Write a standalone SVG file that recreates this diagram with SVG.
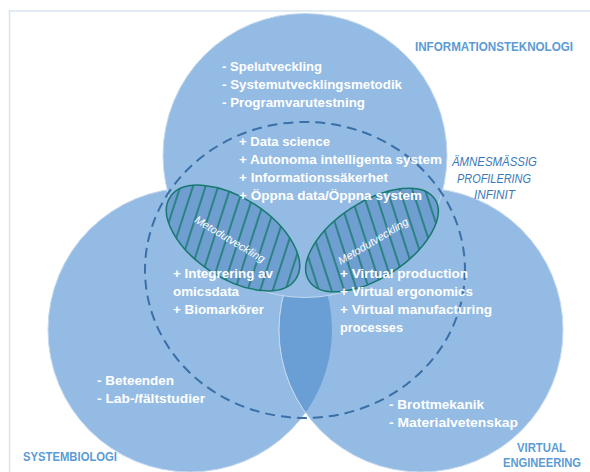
<svg xmlns="http://www.w3.org/2000/svg" width="590" height="472" viewBox="0 0 590 472">
<style>
.circ{fill:#93bbe3;stroke:#c4d8ee;stroke-width:1}
.w{font-family:"Liberation Sans",Arial,sans-serif;font-weight:bold;font-size:13px;fill:#ffffff}
.h{font-family:"Liberation Sans",Arial,sans-serif;font-weight:bold;font-size:12.5px;fill:#5b9bd5}
.it{font-family:"Liberation Sans",Arial,sans-serif;font-style:italic;font-size:12px;fill:#3a78ba}
.m{font-family:"Liberation Sans",Arial,sans-serif;font-style:italic;font-size:11px;fill:#ffffff}
.ell{stroke:#17796d;stroke-width:1.5}
</style>
<defs>
<clipPath id="clipL"><circle cx="190" cy="330" r="142"/></clipPath>
<pattern id="hatchL" patternUnits="userSpaceOnUse" width="12" height="20" patternTransform="rotate(-15)">
<rect width="12" height="20" fill="#6f9ed0"/>
<line x1="6" y1="0" x2="6" y2="20" stroke="#17796d" stroke-width="1.5"/>
</pattern>
<pattern id="hatchR" patternUnits="userSpaceOnUse" width="12" height="20" patternTransform="rotate(15)">
<rect width="12" height="20" fill="#6f9ed0"/>
<line x1="6" y1="0" x2="6" y2="20" stroke="#17796d" stroke-width="1.5"/>
</pattern>
</defs>
<rect x="9.5" y="11" width="600" height="480" fill="none" stroke="#d9e3f0" stroke-width="1.5"/>
<g id="circle-systembiologi"><circle class="circ" cx="190" cy="330" r="142"/></g>
<g id="circle-virtual-engineering"><circle class="circ" cx="421" cy="330" r="142"/></g>
<g id="lens"><circle cx="421" cy="330" r="142" fill="#6a9fd6" stroke="#c4d8ee" stroke-width="1" clip-path="url(#clipL)"/></g>
<g id="circle-informationsteknologi"><circle class="circ" cx="305" cy="155.5" r="142"/></g>
<g id="metod-left">
<ellipse class="ell" cx="0" cy="0" rx="75" ry="40" fill="url(#hatchL)" transform="translate(233,238) rotate(33)"/>
<text class="m" x="0" y="4" text-anchor="middle" textLength="80" lengthAdjust="spacingAndGlyphs" transform="translate(230,239) rotate(31)">Metodutveckling</text>
</g>
<g id="metod-right">
<ellipse class="ell" cx="0" cy="0" rx="75" ry="38" fill="url(#hatchR)" transform="translate(372,240) rotate(-33)"/>
<text class="m" x="0" y="4" text-anchor="middle" textLength="80" lengthAdjust="spacingAndGlyphs" transform="translate(373,241) rotate(-31)">Metodutveckling</text>
</g>
<g id="connectors">
<ellipse cx="305" cy="270" rx="160" ry="148" fill="none" stroke="#3a6fa8" stroke-width="2" stroke-dasharray="10 6"/>
</g>
<g id="texts-it">
<text class="w" x="222" y="71" textLength="100" lengthAdjust="spacingAndGlyphs">- Spelutveckling</text>
<text class="w" x="222" y="89" textLength="180" lengthAdjust="spacingAndGlyphs">- Systemutvecklingsmetodik</text>
<text class="w" x="222" y="107" textLength="143" lengthAdjust="spacingAndGlyphs">- Programvarutestning</text>
<text class="w" x="239" y="146" textLength="91" lengthAdjust="spacingAndGlyphs">+ Data science</text>
<text class="w" x="239" y="164" textLength="203" lengthAdjust="spacingAndGlyphs">+ Autonoma intelligenta system</text>
<text class="w" x="239" y="182" textLength="149" lengthAdjust="spacingAndGlyphs">+ Informationssäkerhet</text>
<text class="w" x="239" y="200" textLength="183" lengthAdjust="spacingAndGlyphs">+ Öppna data/Öppna system</text>
</g>
<g id="texts-sb">
<text class="w" x="173" y="278" textLength="100" lengthAdjust="spacingAndGlyphs">+ Integrering av</text>
<text class="w" x="173" y="296" textLength="66" lengthAdjust="spacingAndGlyphs">omicsdata</text>
<text class="w" x="173" y="314" textLength="91" lengthAdjust="spacingAndGlyphs">+ Biomarkörer</text>
<text class="w" x="97" y="385" textLength="77" lengthAdjust="spacingAndGlyphs">- Beteenden</text>
<text class="w" x="97" y="403" textLength="108" lengthAdjust="spacingAndGlyphs">- Lab-/fältstudier</text>
</g>
<g id="texts-ve">
<text class="w" x="340" y="278" textLength="128" lengthAdjust="spacingAndGlyphs">+ Virtual production</text>
<text class="w" x="340" y="296" textLength="133" lengthAdjust="spacingAndGlyphs">+ Virtual ergonomics</text>
<text class="w" x="340" y="314" textLength="152" lengthAdjust="spacingAndGlyphs">+ Virtual manufacturing</text>
<text class="w" x="340" y="332" textLength="63" lengthAdjust="spacingAndGlyphs">processes</text>
<text class="w" x="389" y="409" textLength="95" lengthAdjust="spacingAndGlyphs">- Brottmekanik</text>
<text class="w" x="389" y="427" textLength="129" lengthAdjust="spacingAndGlyphs">- Materialvetenskap</text>
</g>
<g id="labels">
<text class="h" x="415" y="51" textLength="158" lengthAdjust="spacingAndGlyphs">INFORMATIONSTEKNOLOGI</text>
<text class="h" x="23" y="461" textLength="94" lengthAdjust="spacingAndGlyphs">SYSTEMBIOLOGI</text>
<text class="h" x="541.5" y="452" text-anchor="middle" textLength="49" lengthAdjust="spacingAndGlyphs">VIRTUAL</text>
<text class="h" x="542" y="467" text-anchor="middle" textLength="78" lengthAdjust="spacingAndGlyphs">ENGINEERING</text>
<text class="it" x="494.5" y="166" text-anchor="middle" textLength="85" lengthAdjust="spacingAndGlyphs">ÄMNESMÄSSIG</text>
<text class="it" x="494" y="183" text-anchor="middle" textLength="74" lengthAdjust="spacingAndGlyphs">PROFILERING</text>
<text class="it" x="494.5" y="198.5" text-anchor="middle" textLength="41" lengthAdjust="spacingAndGlyphs">INFINIT</text>
</g>
</svg>
